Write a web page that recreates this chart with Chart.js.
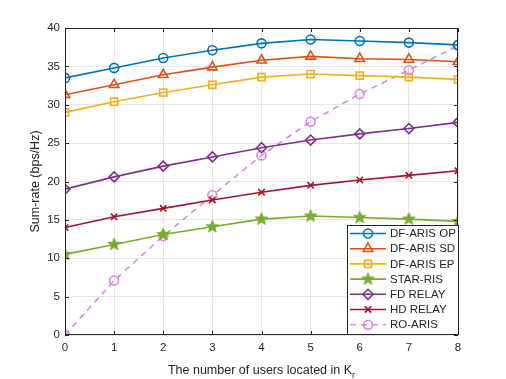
<!DOCTYPE html>
<html>
<head>
<meta charset="utf-8">
<script src="https://cdn.jsdelivr.net/npm/chart.js@4"></script>
<style>
  html, body { margin: 0; padding: 0; background: #fff; }
  #wrap { width: 506px; height: 379px; }
</style>
</head>
<body>
<div id="wrap"><canvas id="chartCanvas" width="506" height="379"></canvas></div>
<script>
const users = [0, 1, 2, 3, 4, 5, 6, 7, 8];
const yTicks = [0, 5, 10, 15, 20, 25, 30, 35, 40];

const dfArisOp = [33.5, 34.8, 36.1, 37.1, 38.0, 38.5, 38.3, 38.1, 37.8];
const dfArisSd = [31.3, 32.6, 33.9, 34.9, 35.8, 36.3, 36.0, 35.9, 35.6];
const dfArisEp = [29.0, 30.4, 31.6, 32.6, 33.6, 34.0, 33.8, 33.6, 33.3];
const starRis  = [10.5, 11.8, 13.1, 14.1, 15.1, 15.5, 15.3, 15.1, 14.8];
const fdRelay  = [19.0, 20.6, 22.0, 23.2, 24.4, 25.4, 26.2, 26.9, 27.7];
const hdRelay  = [14.0, 15.4, 16.5, 17.6, 18.6, 19.5, 20.2, 20.8, 21.4];
const roAris   = [0.0, 7.1, 12.9, 18.2, 23.4, 27.8, 31.4, 34.5, 37.7];

const FONT = '"Liberation Sans", Arial, sans-serif';
const AXIS = '#262626';

// filled five-point star (MATLAB 'p' marker)
function starImage(color, r) {
  const c = document.createElement('canvas');
  const s = Math.ceil(r * 2 + 4);
  c.width = s; c.height = s;
  const g = c.getContext('2d');
  g.fillStyle = color;
  g.strokeStyle = color;
  g.lineWidth = 1;
  g.beginPath();
  for (let i = 0; i < 10; i++) {
    const rad = i % 2 === 0 ? r : r * 0.42;
    const a = -Math.PI / 2 + i * Math.PI / 5;
    const px = s / 2 + rad * Math.cos(a), py = s / 2 + rad * Math.sin(a);
    if (i === 0) g.moveTo(px, py); else g.lineTo(px, py);
  }
  g.closePath();
  g.fill();
  g.stroke();
  return c;
}

function series(label, data, color, style, extra) {
  return Object.assign({
    label: label,
    data: data,
    borderColor: color,
    backgroundColor: color,
    borderWidth: 1.6,
    pointStyle: style,
    pointRadius: 4.5,
    pointHoverRadius: 4.5,
    pointBorderWidth: 1.6,
    pointBorderColor: color,
    pointBackgroundColor: 'rgba(0,0,0,0)',
    fill: false,
    tension: 0
  }, extra || {});
}

const starMarker = starImage('#77AC30', 6.5);

// box, inward ticks, x-title with subscript, legend inside the axes
const matlabBox = {
  id: 'matlabBox',
  afterDraw(chart) {
    const g = chart.ctx;
    const a = chart.chartArea;
    const xs = chart.scales.x, ys = chart.scales.y;
    g.save();
    g.strokeStyle = AXIS;
    g.lineWidth = 1;
    g.strokeRect(a.left + 0.5, a.top + 0.5, a.right - a.left - 1, a.bottom - a.top - 1);
    g.beginPath();
    users.forEach(u => {
      const px = Math.round(xs.getPixelForValue(u)) + 0.5;
      g.moveTo(px, a.bottom); g.lineTo(px, a.bottom - 4);
      g.moveTo(px, a.top); g.lineTo(px, a.top + 4);
    });
    yTicks.forEach(v => {
      const py = Math.round(ys.getPixelForValue(v)) + 0.5;
      g.moveTo(a.left, py); g.lineTo(a.left + 4, py);
      g.moveTo(a.right, py); g.lineTo(a.right - 4, py);
    });
    g.stroke();

    // x title
    g.fillStyle = AXIS;
    g.font = '12.5px ' + FONT;
    g.textBaseline = 'alphabetic';
    const main = 'The number of users located in K';
    const sub = 'r';
    const w1 = g.measureText(main).width;
    g.font = '9px ' + FONT;
    const w2 = g.measureText(sub).width;
    const cx = (a.left + a.right) / 2;
    const x0 = cx - (w1 + w2) / 2;
    const yb = a.bottom + 39;
    g.font = '12.5px ' + FONT;
    g.textAlign = 'left';
    g.fillText(main, x0, yb);
    g.font = '9px ' + FONT;
    g.fillText(sub, x0 + w1, yb + 4);

    // legend
    const lx = 347, ly = 225, lw = 111, lh = 109;
    g.fillStyle = '#fff';
    g.fillRect(lx, ly, lw, lh);
    g.strokeStyle = AXIS;
    g.lineWidth = 1;
    g.strokeRect(lx + 0.5, ly + 0.5, lw, lh);
    const rowH = 15.2;
    chart.data.datasets.forEach((ds, i) => {
      const yy = ly + 8.5 + i * rowH;
      g.save();
      g.strokeStyle = ds.borderColor;
      g.lineWidth = ds.borderWidth;
      g.setLineDash(ds.borderDash || []);
      g.beginPath();
      g.moveTo(lx + 3, yy); g.lineTo(lx + 39, yy);
      g.stroke();
      g.setLineDash([]);
      g.fillStyle = 'rgba(0,0,0,0)';
      g.strokeStyle = ds.borderColor;
      Chart.helpers.drawPoint(g, {
        pointStyle: ds.pointStyle,
        radius: ds.pointRadius,
        borderWidth: ds.pointBorderWidth,
        rotation: 0
      }, lx + 21, yy);
      g.restore();
      g.fillStyle = AXIS;
      g.font = '11.5px ' + FONT;
      g.textAlign = 'left';
      g.textBaseline = 'middle';
      g.fillText(ds.label, lx + 43, yy + 0.5);
    });
    g.restore();
  }
};

const ctx = document.getElementById('chartCanvas').getContext('2d');
const chart = new Chart(ctx, {
  type: 'line',
  data: {
    datasets: [
      series('DF-ARIS OP', users.map((u, i) => ({ x: u, y: dfArisOp[i] })), '#0072BD', 'circle'),
      series('DF-ARIS SD', users.map((u, i) => ({ x: u, y: dfArisSd[i] })), '#D95319', 'triangle', { pointRadius: 5.5 }),
      series('DF-ARIS EP', users.map((u, i) => ({ x: u, y: dfArisEp[i] })), '#EDB120', 'rect', { pointRadius: 5 }),
      series('STAR-RIS', users.map((u, i) => ({ x: u, y: starRis[i] })), '#77AC30', starMarker),
      series('FD RELAY', users.map((u, i) => ({ x: u, y: fdRelay[i] })), '#7E2F8E', 'rectRot', { pointRadius: 5 }),
      series('HD RELAY', users.map((u, i) => ({ x: u, y: hdRelay[i] })), '#A2142F', 'crossRot', { pointRadius: 4.5 }),
      series('RO-ARIS', users.map((u, i) => ({ x: u, y: roAris[i] })), '#D987E8', 'circle', { borderDash: [6, 5] })
    ]
  },
  options: {
    responsive: false,
    animation: false,
    layout: { padding: { left: 28, right: 48, top: 28, bottom: 0 } },
    plugins: {
      legend: { display: false },
      tooltip: { enabled: false }
    },
    scales: {
      x: {
        type: 'linear',
        min: 0, max: 8,
        afterBuildTicks(s) { s.ticks = users.map(v => ({ value: v })); },
        afterFit(s) { s.height = 44; },
        grid: { color: '#e6e6e6', drawTicks: false, lineWidth: 1 },
        border: { display: false },
        ticks: { color: AXIS, font: { family: FONT, size: 11.5 }, padding: 6, maxRotation: 0 },
        title: { display: false }
      },
      y: {
        min: 0, max: 40,
        afterBuildTicks(s) { s.ticks = yTicks.map(v => ({ value: v })); },
        afterFit(s) { s.width = 37; },
        grid: { color: '#e6e6e6', drawTicks: false, lineWidth: 1 },
        border: { display: false },
        ticks: { color: AXIS, font: { family: FONT, size: 11.5 }, padding: 5 },
        title: { display: true, text: 'Sum-rate (bps/Hz)', color: AXIS, font: { family: FONT, size: 12.5 }, padding: { top: 0, bottom: 4 } }
      }
    }
  },
  plugins: [matlabBox]
});
</script>
</body>
</html>
